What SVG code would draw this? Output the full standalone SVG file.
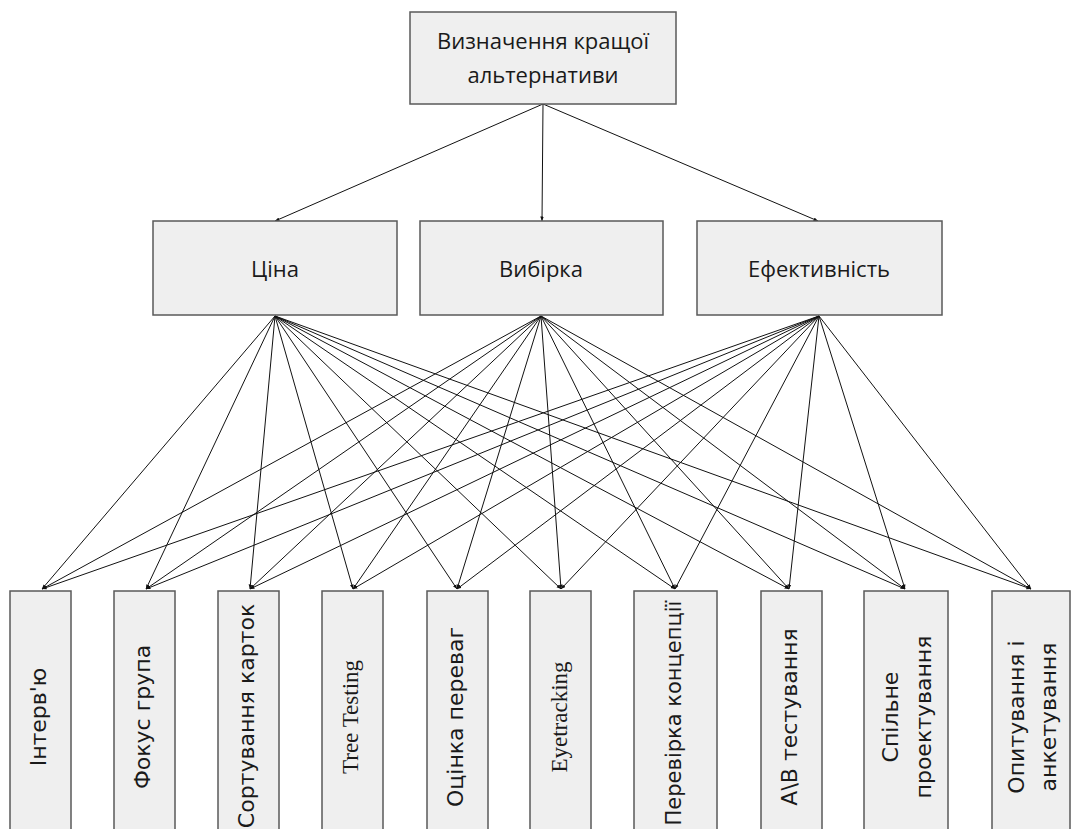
<svg xmlns="http://www.w3.org/2000/svg" width="1072" height="829" viewBox="0 0 1072 829">
<style>
.box{fill:#efefef;stroke:#5a5a5a;stroke-width:1.5}
.lbl{font-family:"Open Sans","Noto Sans",sans-serif;font-size:22px;fill:#1a1a1a;text-anchor:middle}
.v{font-family:"DejaVu Sans",sans-serif;font-size:22px;fill:#1a1a1a;text-anchor:middle}
.vs{font-family:"Liberation Serif",serif;font-size:23px;fill:#1a1a1a;text-anchor:middle}
.c{stroke:#111;stroke-width:1;fill:none;marker-end:url(#ah)}
</style>
<defs>
<marker id="ah" viewBox="0 0 10 10" refX="10" refY="5" markerWidth="4.5" markerHeight="4.5" markerUnits="userSpaceOnUse" orient="auto">
<path d="M0,1 L10,5 L0,9 z" fill="#111"/>
</marker>
</defs>
<rect width="1072" height="829" fill="#fff"/>
<g id="connectors">
<line class="c" x1="543" y1="104" x2="275" y2="221"/>
<line class="c" x1="543" y1="104" x2="542" y2="221"/>
<line class="c" x1="543" y1="104" x2="818" y2="221"/>
<g id="fan-cina">
<line class="c" x1="275" y1="316" x2="42" y2="589"/>
<line class="c" x1="275" y1="316" x2="146" y2="589"/>
<line class="c" x1="275" y1="316" x2="250" y2="589"/>
<line class="c" x1="275" y1="316" x2="353" y2="589"/>
<line class="c" x1="275" y1="316" x2="457" y2="589"/>
<line class="c" x1="275" y1="316" x2="561" y2="589"/>
<line class="c" x1="275" y1="316" x2="675" y2="589"/>
<line class="c" x1="275" y1="316" x2="789" y2="589"/>
<line class="c" x1="275" y1="316" x2="905" y2="589"/>
<line class="c" x1="275" y1="316" x2="1031" y2="589"/>
</g>
<g id="fan-vybirka">
<line class="c" x1="541" y1="316" x2="42" y2="589"/>
<line class="c" x1="541" y1="316" x2="146" y2="589"/>
<line class="c" x1="541" y1="316" x2="250" y2="589"/>
<line class="c" x1="541" y1="316" x2="353" y2="589"/>
<line class="c" x1="541" y1="316" x2="457" y2="589"/>
<line class="c" x1="541" y1="316" x2="561" y2="589"/>
<line class="c" x1="541" y1="316" x2="675" y2="589"/>
<line class="c" x1="541" y1="316" x2="789" y2="589"/>
<line class="c" x1="541" y1="316" x2="905" y2="589"/>
<line class="c" x1="541" y1="316" x2="1031" y2="589"/>
</g>
<g id="fan-efekt">
<line class="c" x1="819" y1="316" x2="42" y2="589"/>
<line class="c" x1="819" y1="316" x2="146" y2="589"/>
<line class="c" x1="819" y1="316" x2="250" y2="589"/>
<line class="c" x1="819" y1="316" x2="353" y2="589"/>
<line class="c" x1="819" y1="316" x2="457" y2="589"/>
<line class="c" x1="819" y1="316" x2="561" y2="589"/>
<line class="c" x1="819" y1="316" x2="675" y2="589"/>
<line class="c" x1="819" y1="316" x2="789" y2="589"/>
<line class="c" x1="819" y1="316" x2="905" y2="589"/>
<line class="c" x1="819" y1="316" x2="1031" y2="589"/>
</g>
</g>
<g id="root">
<rect class="box" x="410" y="12" width="266" height="92"/>
<text class="lbl" x="543" y="49">Визначення кращої</text>
<text class="lbl" x="543" y="83">альтернативи</text>
</g>
<g id="cina">
<rect class="box" x="153" y="221" width="244" height="94"/>
<text class="lbl" x="275" y="277">Ціна</text>
</g>
<g id="vybirka">
<rect class="box" x="420" y="221" width="243" height="94"/>
<text class="lbl" x="541" y="277">Вибірка</text>
</g>
<g id="efektyvnist">
<rect class="box" x="697" y="221" width="245" height="94"/>
<text class="lbl" x="819" y="277">Ефективність</text>
</g>
<g id="interviu">
<rect class="box" x="10" y="591" width="61" height="252"/>
<text class="v" transform="translate(46,717) rotate(-90)">Інтерв'ю</text>
</g>
<g id="fokus">
<rect class="box" x="114" y="591" width="61" height="252"/>
<text class="v" transform="translate(150,717) rotate(-90)">Фокус група</text>
</g>
<g id="sortuvannia">
<rect class="box" x="218" y="591" width="61" height="252"/>
<text class="v" transform="translate(254,716) rotate(-90)">Сортування карток</text>
</g>
<g id="tree">
<rect class="box" x="322" y="591" width="61" height="252"/>
<text class="vs" transform="translate(358,717) rotate(-90)">Tree Testing</text>
</g>
<g id="otsinka">
<rect class="box" x="427" y="591" width="61" height="252"/>
<text class="v" transform="translate(463,717) rotate(-90)">Оцінка переваг</text>
</g>
<g id="eyetracking">
<rect class="box" x="530" y="591" width="61" height="252"/>
<text class="vs" transform="translate(567,717) rotate(-90)">Eyetracking</text>
</g>
<g id="perevirka">
<rect class="box" x="634" y="591" width="83" height="252"/>
<text class="v" style="font-size:21px" transform="translate(681,713) rotate(-90)">Перевірка концепції</text>
</g>
<g id="ab">
<rect class="box" x="761" y="591" width="61" height="252"/>
<text class="v" transform="translate(797,717) rotate(-90)">A\B тестування</text>
</g>
<g id="spilne">
<rect class="box" x="864" y="591" width="84" height="252"/>
<text class="v" transform="translate(898,717) rotate(-90)">Спільне</text>
<text class="v" transform="translate(931,717) rotate(-90)">проектування</text>
</g>
<g id="opytuvannia">
<rect class="box" x="992" y="591" width="78" height="252"/>
<text class="v" transform="translate(1024,717) rotate(-90)">Опитування і</text>
<text class="v" transform="translate(1056,717) rotate(-90)">анкетування</text>
</g>
</svg>
